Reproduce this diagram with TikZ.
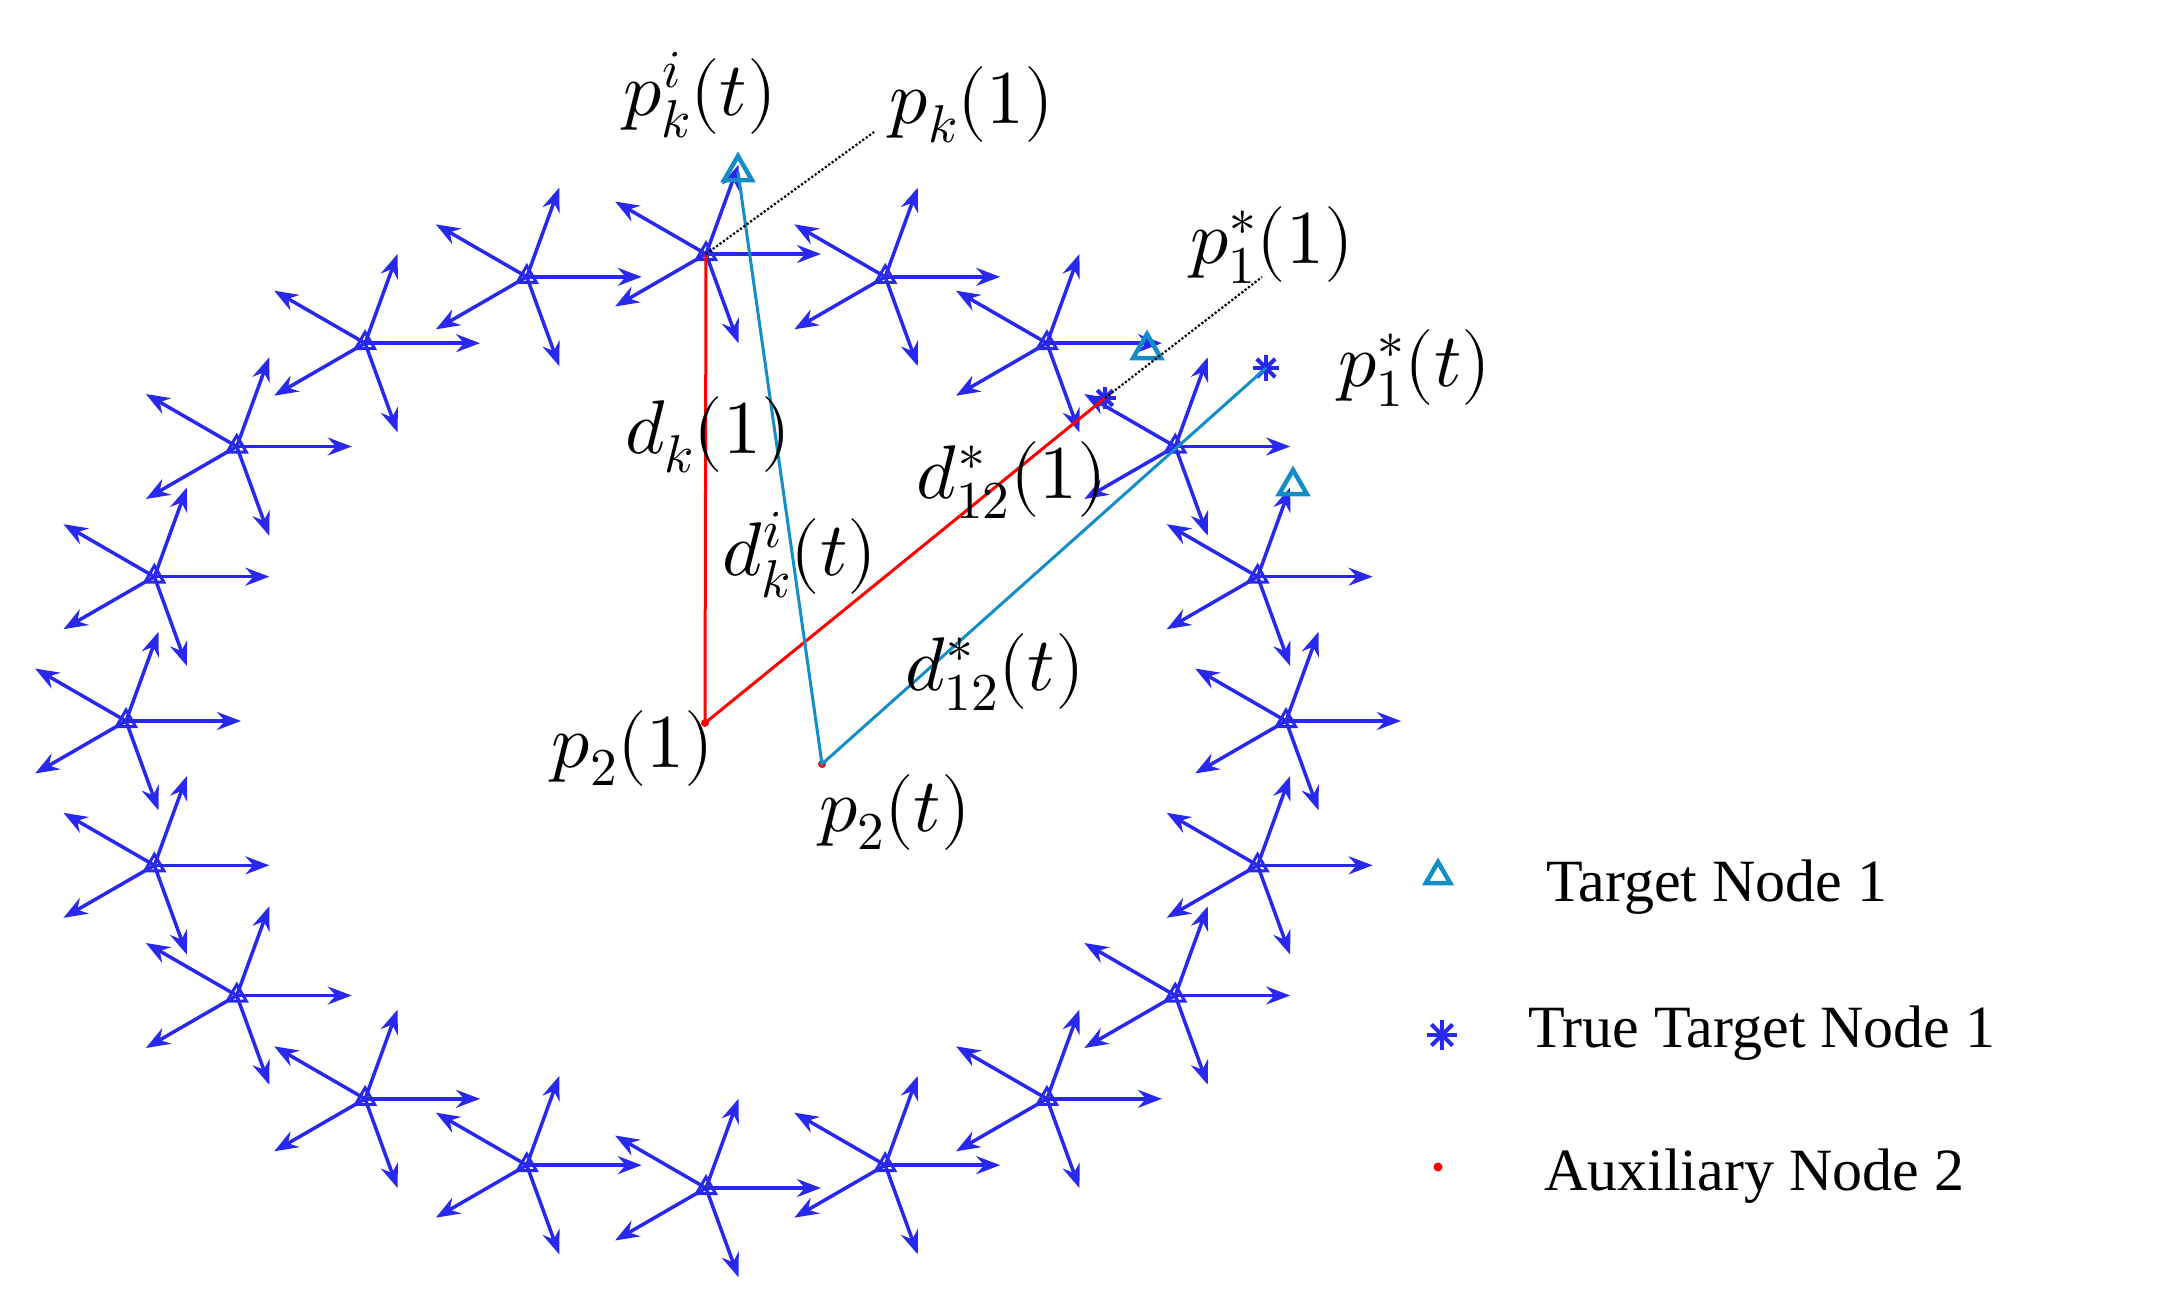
\documentclass[tikz,border=0pt]{standalone}
\usepackage{fontspec}
\setmainfont{Liberation Serif}
\usepackage{unicode-math}
\setmathfont{Latin Modern Math}
\usetikzlibrary{arrows.meta,shapes.geometric,calc}
\definecolor{nb}{RGB}{40,40,240}
\definecolor{tc}{RGB}{20,140,200}
\begin{document}
\begin{tikzpicture}[x=1pt,y=-1pt,
  arr/.style={nb,line width=3.5pt,-{Stealth[length=24pt,width=18pt,inset=8pt]}},
  tri/.style={draw=nb,regular polygon,regular polygon sides=3,line width=3pt,inner sep=0pt,minimum size=22pt},
  ttri/.style={draw=tc,regular polygon,regular polygon sides=3,line width=4.5pt,inner sep=0pt,minimum size=32pt},
  star/.style={nb,line width=4pt},
  lbl/.style={font=\fontsize{76}{78}\selectfont,inner sep=0pt},
  leg/.style={font=\fontsize{60}{62}\selectfont,anchor=west,inner sep=0pt}]
\useasboundingbox (0,0) rectangle (2164,1301);
\foreach \a [count=\i] in {90,108,...,432}{
  \coordinate (n\i) at ({706+580*cos(\a)},{721-467*sin(\a)});
  \node[tri] (t\i) at (n\i) {};
  \foreach \d/\l in {0/115,70/95,150/105,210/105,290/95}
    \draw[arr] (n\i) -- ++({\l*cos(\d)},{-\l*sin(\d)});
}
% special nodes
\node[ttri] (pk) at (738,172) {};
\node[ttri] (ta) at (1147,350) {};
\node[ttri] (tb) at (1293,486) {};
\coordinate (st) at (1266,368);
\coordinate (s1c) at (1105,398);
\coordinate (g2) at (1442,1035);
\foreach \c/\r in {st/13,s1c/11,g2/15}
  \foreach \k in {0,45,90,135}
    \draw[star] ($(\c)+({\r*cos(\k)},{\r*sin(\k)})$) -- ($(\c)-({\r*cos(\k)},{\r*sin(\k)})$);
\coordinate (p21) at (705,723);
\coordinate (p2t) at (822,764);
\fill[red] (p21) circle (4pt);
\fill[red] (p2t) circle (4pt);
\draw[red,line width=3pt] (n1) -- (p21) -- (s1c);
\draw[tc,line width=3pt] (pk.center) -- (p2t) -- (st);
\draw[dotted,line width=2.2pt] (n1) -- (874,132);
\draw[dotted,line width=2.2pt] (s1c) -- (1262,277);
% labels
\node[lbl] (l1) at (700,95) {$p_k^i(t)$};
\node[lbl] (l2) at (972,105) {$p_k(1)$};
\node[lbl] (l3) at (1272,245) {$p_1^*(1)$};
\node[lbl] (l4) at (1415,368) {$p_1^*(t)$};
\node[lbl] (l5) at (708,435) {$d_k(1)$};
\node[lbl] (l6) at (800,555) {$d_k^i(t)$};
\node[lbl] (l7) at (1012,480) {$d_{12}^*(1)$};
\node[lbl] (l8) at (995,672) {$d_{12}^*(t)$};
\node[lbl] (l9) at (633,748) {$p_2(1)$};
\node[lbl] (l10) at (895,812) {$p_2(t)$};
% legend
\node[ttri,minimum size=28pt] (g1) at (1438,876) {};
\node[leg] (g1t) at (1546,887) {Target Node 1};
\node[leg] (g2t) at (1528,1033) {True Target Node 1};
\fill[red] (1438,1167) circle (4.5pt) coordinate (g3);
\node[leg] (g3t) at (1544,1176) {Auxiliary Node 2};
\end{tikzpicture}
\end{document}
